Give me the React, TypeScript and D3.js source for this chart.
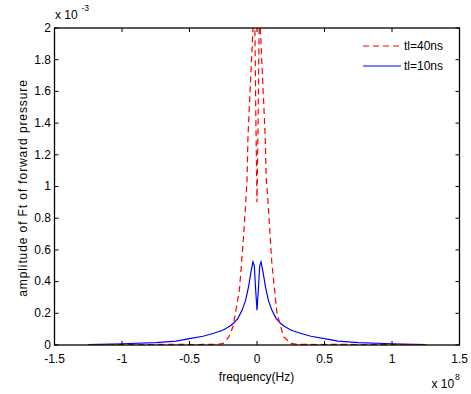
import React from "react";
import * as d3 from "d3";

// frequency in units of 1e8 Hz, amplitude in units of 1e-3
const redFreq = [-1.25, -1.0, -0.8, -0.6, -0.45, -0.35, -0.3, -0.25, -0.21, -0.18, -0.16, -0.13, -0.116, -0.1, -0.085, -0.074, -0.067, -0.05, -0.03, -0.022, -0.015, -0.008, 0, 0.008, 0.015, 0.022, 0.025, 0.044, 0.061, 0.069, 0.081, 0.11, 0.148, 0.197, 0.25, 0.3, 0.35, 0.45, 0.6, 0.8, 1.0, 1.25];
const redAmp = [0.002, 0.002, 0.003, 0.004, 0.003, 0.004, 0.003, 0.01, 0.05, 0.11, 0.2, 0.35, 0.5, 0.68, 0.88, 1.04, 1.31, 1.63, 1.99, 2.2, 1.95, 1.4, 0.9, 1.4, 1.95, 2.2, 1.99, 1.63, 1.31, 1.04, 0.915, 0.515, 0.2, 0.052, 0.01, 0.003, 0.004, 0.003, 0.004, 0.003, 0.002, 0.002];

const blueFreq = [-1.25, -1.0, -0.75, -0.6, -0.5, -0.4, -0.32, -0.25, -0.2, -0.17, -0.14, -0.11, -0.085, -0.062, -0.045, -0.03, -0.02, -0.01, 0, 0.01, 0.02, 0.03, 0.045, 0.062, 0.085, 0.11, 0.14, 0.17, 0.2, 0.25, 0.32, 0.4, 0.5, 0.6, 0.75, 1.0, 1.25];
const blueAmp = [0.003, 0.008, 0.015, 0.025, 0.04, 0.055, 0.074, 0.095, 0.12, 0.14, 0.17, 0.22, 0.28, 0.37, 0.46, 0.525, 0.5, 0.35, 0.22, 0.35, 0.5, 0.525, 0.46, 0.37, 0.28, 0.22, 0.17, 0.14, 0.12, 0.095, 0.074, 0.055, 0.04, 0.025, 0.015, 0.008, 0.003];

const xTicks = [-1.5, -1, -0.5, 0, 0.5, 1, 1.5];
const yTicks = [0, 0.2, 0.4, 0.6, 0.8, 1, 1.2, 1.4, 1.6, 1.8, 2];
const seriesNames = ["tl=40ns", "tl=10ns"];
const seriesColors = ["#ff0000", "#0000ff"];

const W = 471, H = 394;
const L = 54.5, R = 459.5, T = 28, B = 345;
const FONT = "'Liberation Sans', Arial, sans-serif";

export default function App() {
  const x = d3.scaleLinear().domain([-1.5, 1.5]).range([L, R]);
  const y = d3.scaleLinear().domain([0, 2]).range([B, T]);
  const line = d3.line<[number, number]>().x(d => x(d[0])).y(d => y(d[1]));
  const redPts = redFreq.map((f, i) => [f, redAmp[i]] as [number, number]);
  const bluePts = blueFreq.map((f, i) => [f, blueAmp[i]] as [number, number]);
  const tl = 4;
  return (
    <svg width={W} height={H} style={{ position: "absolute", left: 0, top: 0, background: "#fff" }} fontFamily={FONT}>
      <defs>
        <clipPath id="plotclip">
          <rect x={L} y={T} width={R - L} height={B - T} />
        </clipPath>
      </defs>
      <rect x={0} y={0} width={W} height={H} fill="#fff" />
      <g clipPath="url(#plotclip)">
        <path d={line(bluePts) || ""} fill="none" stroke={seriesColors[1]} strokeWidth={1.2} />
        <path d={line(redPts) || ""} fill="none" stroke={seriesColors[0]} strokeWidth={1.2} strokeDasharray="6,4" />
      </g>
      {/* axes box */}
      <rect x={L} y={T} width={R - L} height={B - T} fill="none" stroke="#000" strokeWidth={1.3} />
      {xTicks.map(t => (
        <g key={"x" + t}>
          <line x1={x(t)} x2={x(t)} y1={B} y2={B - tl} stroke="#000" />
          <line x1={x(t)} x2={x(t)} y1={T} y2={T + tl} stroke="#000" />
          <text x={x(t)} y={362.5} fontSize={12} textAnchor="middle">{String(t)}</text>
        </g>
      ))}
      {yTicks.map(t => (
        <g key={"y" + t}>
          <line x1={L} x2={L + tl} y1={y(t)} y2={y(t)} stroke="#000" />
          <line x1={R} x2={R - tl} y1={y(t)} y2={y(t)} stroke="#000" />
          <text x={L - 3.5} y={y(t) + 3.8} fontSize={12} textAnchor="end">{String(t)}</text>
        </g>
      ))}
      {/* exponents */}
      <text x={55} y={18.5} fontSize={12}>x 10</text>
      <text x={81.5} y={10.5} fontSize={8.5}>-3</text>
      <text x={431.5} y={388} fontSize={12}>x 10</text>
      <text x={455} y={380} fontSize={8.5}>8</text>
      {/* axis labels */}
      <text x={256.5} y={381} fontSize={12} textAnchor="middle">frequency(Hz)</text>
      <text transform={`translate(27,${188}) rotate(-90)`} fontSize={12} letterSpacing={0.9} textAnchor="middle">amplitude of Ft of forward pressure</text>
      {/* legend */}
      <path d="M363,46 L401,46" fill="none" stroke={seriesColors[0]} strokeWidth={1.1} strokeDasharray="6,4" />
      <text x={404} y={50} fontSize={12}>{seriesNames[0]}</text>
      <path d="M363,66 L401,66" fill="none" stroke={seriesColors[1]} strokeWidth={1.1} />
      <text x={404} y={70} fontSize={12}>{seriesNames[1]}</text>
    </svg>
  );
}
